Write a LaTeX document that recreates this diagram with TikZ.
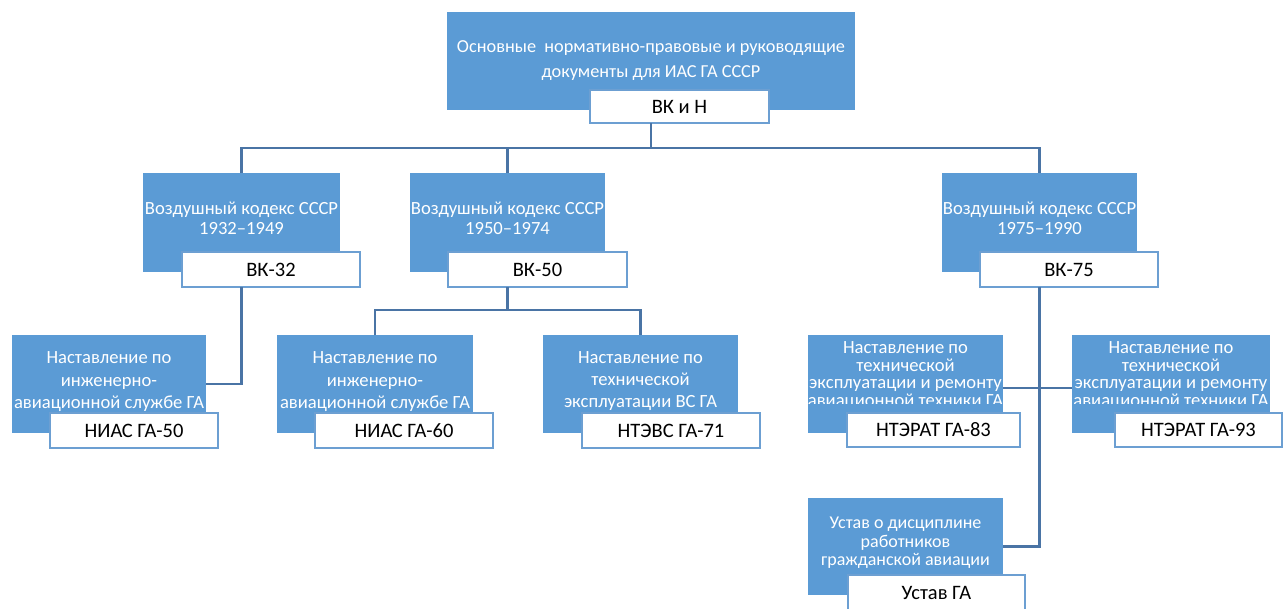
\documentclass[tikz,border=0pt]{standalone}
\usepackage{fontspec}
\setmainfont{Carlito}
\definecolor{boxblue}{HTML}{5B9BD5}
\definecolor{linkblue}{HTML}{4A74A5}
\definecolor{edgeblue}{HTML}{6C9FD2}
\def\mytight{\lineskiplimit=-30pt\relax}
\tikzset{
  bluebox/.style={draw=none, fill=boxblue, anchor=north west, inner sep=0pt, outer sep=0pt},
  whitebox/.style={draw=edgeblue, line width=1.5pt, fill=white, anchor=north west, inner sep=0pt, outer sep=0pt, text=black, font=\fontsize{20.5}{24}\selectfont},
  bluetext/.style={text=white, align=center, inner sep=0pt, font=\fontsize{18.6}{#1}\selectfont\mytight},
  bluetext/.default=20,
  link/.style={draw=linkblue, line width=2.3pt}
}
\begin{document}
\begin{tikzpicture}[x=1pt,y=-1pt]
\useasboundingbox (0,0) rectangle (1285,608);
% top
\node[bluebox, minimum width=408pt, minimum height=98pt] (top) at (447,12) {};
\node[bluetext=25, font=\fontsize{18.3}{25}\selectfont] (toptxt) at (651,60.5) {Основные~ нормативно-правовые и руководящие\\документы для ИАС ГА СССР};
\node[whitebox, minimum width=179pt, minimum height=33pt] (vkn) at (590,90) {ВК и Н};
% level 2
\node[bluebox, minimum width=197pt, minimum height=99pt] (b1) at (143,173) {};
\node[bluetext] (b1t) at (241.5,218) {Воздушный кодекс СССР\\1932–1949};
\node[whitebox, minimum width=178pt, minimum height=35pt] (w1) at (182,252) {ВК-32};
\node[bluebox, minimum width=195pt, minimum height=99pt] (b2) at (410,173) {};
\node[bluetext] (b2t) at (507.5,218) {Воздушный кодекс СССР\\1950–1974};
\node[whitebox, minimum width=179pt, minimum height=35pt] (w2) at (448,252) {ВК-50};
\node[bluebox, minimum width=195pt, minimum height=99pt] (b3) at (942,173) {};
\node[bluetext] (b3t) at (1039.5,218) {Воздушный кодекс СССР\\1975–1990};
\node[whitebox, minimum width=178pt, minimum height=35pt] (w3) at (980,252) {ВК-75};
% level 3
\node[bluebox, minimum width=194pt, minimum height=98pt] (n50) at (12,335) {};
\node[bluetext=22.5] (n50t) at (109,382) {Наставление по\\инженерно-\\авиационной службе ГА};
\node[whitebox, minimum width=168pt, minimum height=35pt] (w50) at (50,413) {НИАС ГА-50};
\node[bluebox, minimum width=196pt, minimum height=98pt] (n60) at (277,335) {};
\node[bluetext=22.5] (n60t) at (375,382) {Наставление по\\инженерно-\\авиационной службе ГА};
\node[whitebox, minimum width=178pt, minimum height=35pt] (w60) at (315,413) {НИАС ГА-60};
\node[bluebox, minimum width=195pt, minimum height=98pt] (n71) at (543,335) {};
\node[bluetext=22] (n71t) at (640.5,381.5) {Наставление по\\технической\\эксплуатации ВС ГА};
\node[whitebox, minimum width=178pt, minimum height=35pt] (w71) at (582,413) {НТЭВС ГА-71};
\node[bluebox, minimum width=195pt, minimum height=98pt] (n83) at (808,335) {};
\begin{scope}
\clip (808,335) rectangle (1003,403);
\node[bluetext=17.5] (n83t) at (905.5,375.5) {Наставление по\\технической\\эксплуатации и ремонту\\авиационной техники ГА};
\end{scope}
\node[whitebox, minimum width=173pt, minimum height=34pt] (w83) at (847,413) {НТЭРАТ ГА-83};
\node[bluebox, minimum width=198pt, minimum height=98pt] (n93) at (1072,335) {};
\begin{scope}
\clip (1072,335) rectangle (1270,403);
\node[bluetext=17.5] (n93t) at (1171,375.5) {Наставление по\\технической\\эксплуатации и ремонту\\авиационной техники ГА};
\end{scope}
\node[whitebox, minimum width=167pt, minimum height=34pt] (w93) at (1115,413) {НТЭРАТ ГА-93};
% Ustav
\node[bluebox, minimum width=195pt, minimum height=97pt] (ust) at (808,498) {};
\node[bluetext=18.5, font=\fontsize{18}{18.5}\selectfont\mytight] (ustt) at (905.5,543) {Устав о дисциплине\\работников\\гражданской авиации};
\node[whitebox, minimum width=177pt, minimum height=36pt] (wust) at (848,575) {Устав ГА};
% connectors
\coordinate (bus) at (651,148);
\draw[link] (vkn.south -| bus) -- (bus);
\draw[link] (b1.north) |- (bus) -| (b3.north);
\draw[link] (b2.north) -- (b2.north |- bus);
\draw[link] (w1.south -| b1.north) |- (n50.east);
\coordinate (bus2) at (507.5,310);
\draw[link] (w2.south -| b2.north) -- (bus2);
\draw[link] (n60.north) |- (bus2) -| (n71.north);
\draw[link] (w3.south -| b3.north) |- (ust.east);
\draw[link] ([yshift=-4pt]n83.east) -- ([yshift=-4pt]n93.west);
\end{tikzpicture}
\end{document}
